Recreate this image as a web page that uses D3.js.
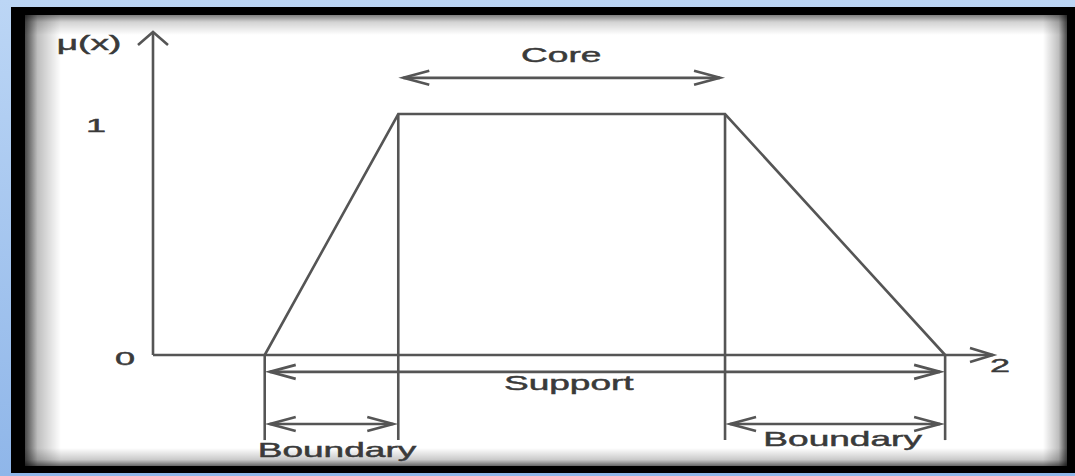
<!DOCTYPE html>
<html>
<head>
<meta charset="utf-8">
<script src="https://cdn.jsdelivr.net/npm/d3@7"></script>
<style>
  html, body { margin: 0; padding: 0; background: #a9c9f0; }
  svg { display: block; }
  text { font-family: "Liberation Sans", Arial, sans-serif; fill: #3a3a3a; stroke: #3a3a3a; stroke-width: 0.45; }
</style>
</head>
<body>
<svg id="chart" width="1075" height="476"></svg>
<script>
// trapezoidal membership function: a, b, c, d on the x axis
const breakX = [1.33, 2.92, 6.81, 9.43];
const breakMu = [0, 1, 1, 0];

// y tick labels
const yTicks = [0, 1];
const yTickLabels = ['0', '1'];

// annotated spans (double arrows under / above the shape)
const spanNames = ['Core', 'Support', 'Boundary', 'Boundary'];
const spanFrom = [2.92, 1.33, 1.33, 6.81];
const spanTo = [6.81, 9.43, 2.92, 9.43];
const spanLevel = [1.15, -0.07, -0.286, -0.286];
const spanTextX = [4.86, 4.95, 2.19, 8.21];
const spanTextLevel = [1.215, -0.145, -0.423, -0.378];

// vertical guide lines dropped from each break point
const dropFrom = [0, 1, 1, 0];
const dropTo = -0.353;

const W = 1075, H = 476;
const svg = d3.select('#chart');
const defs = svg.append('defs');

const x = d3.scaleLinear().domain([0, 10]).range([153, 993]);
const y = d3.scaleLinear().domain([0, 1]).range([355, 114]);

const stroke = '#555';
const sw = 2.6;
const stretch = 1.9;

// frame: blue edge, black border, white panel with inner shadow
function grad(id, x2, y2, a) {
  const lg = defs.append('linearGradient').attr('id', id)
    .attr('x1', 0).attr('y1', 0).attr('x2', x2).attr('y2', y2);
  lg.append('stop').attr('offset', 0).attr('stop-color', '#000').attr('stop-opacity', a);
  lg.append('stop').attr('offset', 0.35).attr('stop-color', '#000').attr('stop-opacity', a * 0.35);
  lg.append('stop').attr('offset', 1).attr('stop-color', '#000').attr('stop-opacity', 0);
  return `url(#${id})`;
}
const bg = defs.append('linearGradient').attr('id', 'bg')
  .attr('x1', 0).attr('y1', 0).attr('x2', 0).attr('y2', 1);
bg.append('stop').attr('offset', 0).attr('stop-color', '#bcd6f5');
bg.append('stop').attr('offset', 1).attr('stop-color', '#8fb6e9');
svg.append('rect').attr('width', W).attr('height', H).attr('fill', 'url(#bg)');
svg.append('rect').attr('x', 11).attr('y', 7).attr('width', W - 11).attr('height', 466)
  .attr('fill', '#000');

const px0 = 25, py0 = 15, px1 = 1067, py1 = 466;
svg.append('rect').attr('x', px0).attr('y', py0)
  .attr('width', px1 - px0).attr('height', py1 - py0).attr('fill', '#fff');
svg.append('rect').attr('x', px0).attr('y', py0).attr('width', 36).attr('height', py1 - py0)
  .attr('fill', grad('shL', 1, 0, 0.72));
svg.append('rect').attr('x', px0).attr('y', py0).attr('width', px1 - px0).attr('height', 20)
  .attr('fill', grad('shT', 0, 1, 0.5));
svg.append('rect').attr('x', px1 - 24).attr('y', py0).attr('width', 24).attr('height', py1 - py0)
  .attr('fill', grad('shR', 1, 0, 0.72)).attr('transform', `rotate(180 ${px1 - 12} ${(py0 + py1) / 2})`);
svg.append('rect').attr('x', px0).attr('y', py1 - 18).attr('width', px1 - px0).attr('height', 18)
  .attr('fill', grad('shB', 0, 1, 0.6)).attr('transform', `rotate(180 ${(px0 + px1) / 2} ${py1 - 9})`);

const g = svg.append('g')
  .attr('fill', 'none')
  .attr('stroke', stroke)
  .attr('stroke-width', sw)
  .attr('stroke-linecap', 'butt');

// open arrow head, tip at (px, py), pointing along dir
function head(px, py, dir, len, half) {
  if (dir === 'right') return `M${px - len},${py - half}L${px},${py}L${px - len},${py + half}`;
  if (dir === 'left') return `M${px + len},${py - half}L${px},${py}L${px + len},${py + half}`;
  return `M${px - half},${py + len}L${px},${py}L${px + half},${py + len}`;
}

// axes
const yTop = y(1.34);
g.append('line').attr('x1', x(0)).attr('x2', x(0)).attr('y1', yTop).attr('y2', y(0));
g.append('path').attr('d', head(x(0), yTop, 'up', 13, 15));
g.append('line').attr('x1', x(0)).attr('x2', x(10)).attr('y1', y(0)).attr('y2', y(0));
g.append('path').attr('d', head(x(10), y(0), 'right', 23, 7));

// membership shape
const line = d3.line().x((d) => x(d[0])).y((d) => y(d[1]));
g.append('path').attr('d', line(d3.zip(breakX, breakMu)));

// drop lines
breakX.forEach((bx, i) => {
  g.append('line')
    .attr('x1', x(bx)).attr('x2', x(bx))
    .attr('y1', y(dropFrom[i])).attr('y2', y(dropTo));
});

// double arrows
const inset = 5;
spanNames.forEach((name, i) => {
  const x0 = x(spanFrom[i]) + inset;
  const x1 = x(spanTo[i]) - inset;
  const yy = y(spanLevel[i]);
  g.append('line').attr('x1', x0).attr('x2', x1).attr('y1', yy).attr('y2', yy);
  g.append('path').attr('d', head(x0, yy, 'left', 26, 7));
  g.append('path').attr('d', head(x1, yy, 'right', 26, 7));
});

// labels, horizontally stretched like the source picture
function label(tx, ty, str, size) {
  svg.append('text')
    .attr('transform', `translate(${tx},${ty}) scale(${stretch},1)`)
    .attr('text-anchor', 'middle')
    .attr('font-size', size)
    .text(str);
}

spanNames.forEach((name, i) => {
  label(x(spanTextX[i]), y(spanTextLevel[i]), name, 19.5);
});

label(89, 50, 'μ(x)', 19.5);
label(1000, 372, '2', 19);
yTicks.forEach((t, i) => {
  const tx = t === 0 ? 125 : 96;
  const ty = t === 0 ? 365 : 132;
  label(tx, ty, yTickLabels[i], 19);
});
</script>
</body>
</html>
